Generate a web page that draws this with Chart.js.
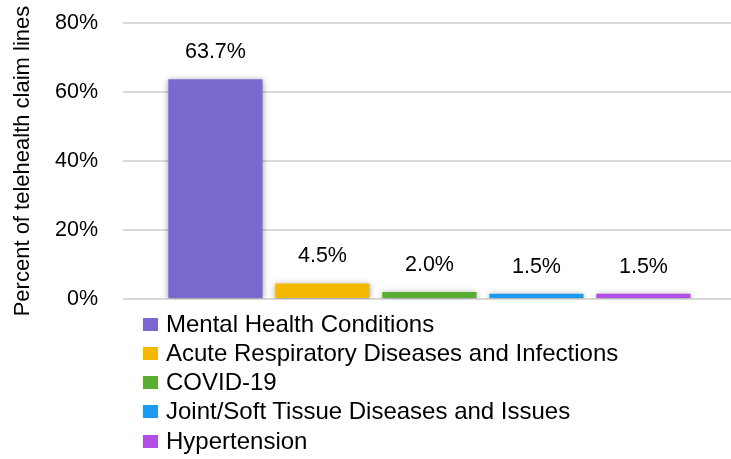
<!DOCTYPE html>
<html>
<head>
<meta charset="utf-8">
<script src="https://cdn.jsdelivr.net/npm/chart.js@4/dist/chart.umd.min.js"></script>
<style>
  html, body { margin: 0; padding: 0; background: #fff; }
  #wrap { position: relative; width: 731px; height: 459px; overflow: hidden; }
  #c { position: absolute; left: 0; top: 0; }
  #legend { position: absolute; left: 0; top: 0; width: 731px; height: 459px; pointer-events: none;
            font-family: "Liberation Sans", Arial, sans-serif; font-size: 24px; color: #000; }
  .row { position: absolute; left: 166px; line-height: 29.2px; white-space: nowrap; }
  .sw { position: absolute; left: -23px; top: 9px; width: 15px; height: 13px; }
</style>
</head>
<body>
<div id="wrap">
  <canvas id="c" width="731" height="459"></canvas>
  <div id="legend"></div>
</div>
<script>
// ---- data ----
const categories = [
  "Mental Health Conditions",
  "Acute Respiratory Diseases and Infections",
  "COVID-19",
  "Joint/Soft Tissue Diseases and Issues",
  "Hypertension"
];
const values = [63.7, 4.5, 2.0, 1.5, 1.5];
const barColors = ["#7B68CE", "#F5B800", "#5AAE32", "#1A9AF0", "#B14EE6"];
const yTicks = [0, 20, 40, 60, 80];
const yTitle = "Percent of telehealth claim lines";

const FONT = "'Liberation Sans', Arial, sans-serif";

const shadowPlugin = {
  id: 'barShadow',
  beforeDatasetsDraw(chart) {
    const ctx = chart.ctx;
    ctx.save();
    ctx.shadowColor = 'rgba(0,0,0,0.38)';
    ctx.shadowBlur = 6;
    ctx.shadowOffsetX = 0;
    ctx.shadowOffsetY = 1;
  },
  afterDatasetsDraw(chart) {
    chart.ctx.restore();
  }
};

const labelPlugin = {
  id: 'valueLabels',
  afterDraw(chart) {
    const ctx = chart.ctx;
    const meta = chart.getDatasetMeta(0);
    ctx.save();
    ctx.font = "21.5px " + FONT;
    ctx.fillStyle = '#000';
    ctx.textAlign = 'center';
    ctx.textBaseline = 'middle';
    meta.data.forEach((el, i) => {
      ctx.fillText(values[i].toFixed(1) + '%', el.x, el.y - 27);
    });
    ctx.restore();
  }
};

new Chart(document.getElementById('c'), {
  type: 'bar',
  data: {
    datasets: [{
      data: values.map((v, i) => ({ x: i, y: v })),
      backgroundColor: barColors,
      borderWidth: 0,
      barPercentage: 0.881,
      categoryPercentage: 1
    }]
  },
  options: {
    responsive: false,
    animation: false,
    devicePixelRatio: 1,
    layout: { padding: { left: 0, right: 0, top: 23, bottom: 160 } },
    plugins: { legend: { display: false }, tooltip: { enabled: false } },
    scales: {
      x: {
        type: 'linear',
        display: false,
        offset: false,
        min: -0.864,
        max: 4.818,
        afterBuildTicks(scale) { scale.ticks = categories.map((c, i) => ({ value: i })); }
      },
      y: {
        type: 'linear',
        min: yTicks[0],
        max: yTicks[yTicks.length - 1],
        afterBuildTicks(scale) { scale.ticks = yTicks.map(v => ({ value: v })); },
        afterFit(scale) { scale.width = 123; scale.paddingTop = 0; scale.paddingBottom = 0; },
        border: { display: false },
        grid: { color: '#d9d9d9', lineWidth: 2, drawTicks: false },
        ticks: {
          padding: 25,
          color: '#000',
          font: { family: FONT, size: 21.5 },
          callback: v => v + '%'
        },
        title: {
          display: true,
          text: yTitle,
          color: '#000',
          font: { family: FONT, size: 22 },
          padding: { top: 10, bottom: 0 }
        }
      }
    }
  },
  plugins: [shadowPlugin, labelPlugin]
});

// ---- legend (HTML, real text) ----
const legend = document.getElementById('legend');
categories.forEach((c, i) => {
  const row = document.createElement('div');
  row.className = 'row';
  row.style.top = (308.7 + i * 29.2) + 'px';
  const sw = document.createElement('span');
  sw.className = 'sw';
  sw.style.background = barColors[i];
  row.appendChild(sw);
  row.appendChild(document.createTextNode(c));
  legend.appendChild(row);
});
</script>
</body>
</html>
